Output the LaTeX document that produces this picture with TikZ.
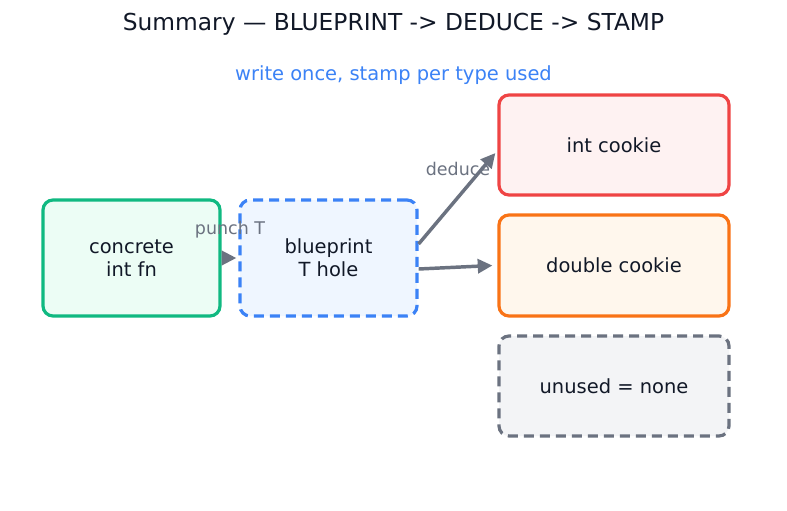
\documentclass[tikz,border=0pt]{standalone}
\usepackage{fontspec}
\setmainfont{DejaVu Sans}
\usetikzlibrary{arrows.meta}
\definecolor{cgreen}{HTML}{10B981}
\definecolor{fgreen}{HTML}{ECFDF5}
\definecolor{cblue}{HTML}{3B82F6}
\definecolor{fblue}{HTML}{EFF6FF}
\definecolor{cred}{HTML}{EF4444}
\definecolor{fred}{HTML}{FEF2F2}
\definecolor{corange}{HTML}{F97316}
\definecolor{forange}{HTML}{FFF7ED}
\definecolor{cgray}{HTML}{6B7280}
\definecolor{fgray}{HTML}{F3F4F6}
\definecolor{ctext}{HTML}{111827}
\tikzset{
  box/.style={draw, line width=2.4pt, rounded corners=7.5pt, minimum width=#1, align=center, font=\fontsize{14.6}{17}\selectfont, text=ctext, inner sep=0pt},
  conn/.style={draw=cgray, line width=2.6pt, -{Triangle[length=11pt,width=10.5pt]}},
  lbl/.style={text=cgray, font=\fontsize{13.1}{15}\selectfont},
}
\begin{document}
\begin{tikzpicture}[x=0.75pt,y=-0.75pt]
\useasboundingbox[fill=white] (0,0) rectangle (787,510);
\node[font=\fontsize{17.5}{20}\selectfont, text=ctext] (title) at (393.5,24) {Summary — BLUEPRINT -> DEDUCE -> STAMP};
\node[font=\fontsize{14.6}{17}\selectfont, text=cblue] (sub) at (393.5,75) {write once, stamp per type used};
\node[box=132.75pt, minimum height=87pt, draw=cgreen, fill=fgreen] (concrete) at (131.5,258) {concrete\\int fn};
\node[box=132.75pt, minimum height=87pt, draw=cblue, fill=fblue, dash pattern=on 7.5pt off 4.5pt] (blue) at (328.5,258) {blueprint\\T hole};
\node[box=172.5pt, minimum height=75pt, draw=cred, fill=fred] (intc) at (614,145) {int cookie};
\node[box=172.5pt, minimum height=75.75pt, draw=corange, fill=forange] (dblc) at (614,265.5) {double cookie};
\node[box=172.5pt, minimum height=75pt, draw=cgray, fill=fgray, dash pattern=on 7.5pt off 4.5pt] (unused) at (614,386) {unused = none};
\draw[conn] (concrete.east) -- ([xshift=-1.5pt]blue.west);
\draw[conn] ([yshift=10.5pt]blue.east) -- ([xshift=-1.5pt,yshift=-6pt]intc.west);
\draw[conn] ([yshift=-8.25pt]blue.east) -- ([xshift=-3.75pt,yshift=0pt]dblc.west);
\node[lbl] (l1) at (230,230) {punch T};
\node[lbl] (l2) at (458,169) {deduce};
\end{tikzpicture}
\end{document}
